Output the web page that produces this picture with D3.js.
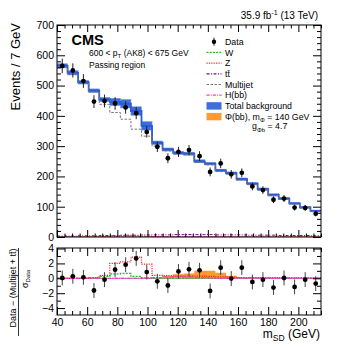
<!DOCTYPE html>
<html>
<head>
<meta charset="utf-8">
<script src="https://cdn.jsdelivr.net/npm/d3@7"></script>
<style>
body { margin: 0; background: #fff; }
svg text { font-family: "Liberation Sans", Arial, sans-serif; fill: #000; }
.axis path { display: none; }
.axis line { stroke: #000; stroke-width: 1; }
</style>
</head>
<body>
<svg id="chart" width="357" height="347"></svg>
<script>
// bins: 7 GeV wide, lower edges
const binLow = [40, 47, 54, 61, 68, 75, 82, 89, 96, 103, 110, 117, 124, 131, 138, 145, 152, 159, 166, 173, 180, 187, 194, 201, 208];
const BIN_W = 7;

// main panel (events / bin)
const dataCounts = [565, 550, 515, 447, 449, 441, 428, 409, 347, 298, 260, 281, 287, 267, 215, 243, 207, 212, 167, 155, 123, 127, 97, 96, 77];
const totalBkg   = [565, 542, 511, 483, 454, 446, 440, 416, 367, 311, 289, 278, 275, 250, 242, 220, 211, 191, 176, 158, 139, 127, 111, 98, 86];
const totalErr   = [7, 7, 6, 6, 7, 12, 14, 14, 14, 6, 5, 5, 5, 5, 4, 4, 4, 4, 4, 4, 4, 4, 3, 3, 3];
const multijet   = [562, 539, 508, 479, 438, 411, 389, 356, 333, 300, 284, 274, 272, 247, 238, 216, 208, 188, 173, 155, 137, 125, 109, 96, 84];
const ttbar      = [3, 3, 4, 4, 5, 5, 6, 6, 7, 7, 7, 8, 8, 8, 8, 7, 7, 7, 6, 6, 6, 5, 5, 5, 4];
const wMain      = [0, 0, 0, 1, 2, 4, 4, 2, 1, 0, 0, 0, 0, 0, 0, 0, 0, 0, 0, 0, 0, 0, 0, 0, 0];
const zMain      = [0, 0, 0, 0, 1, 2, 3, 4, 3, 1, 0, 0, 0, 0, 0, 0, 0, 0, 0, 0, 0, 0, 0, 0, 0];
const hMain      = [0, 0, 0, 0, 0, 0, 0, 0, 0, 1, 1, 2, 2, 2, 1, 1, 0, 0, 0, 0, 0, 0, 0, 0, 0];

// ratio panel: (data - (multijet + tt)) / sigma_data
const ratioData = [0.04, 0.27, 0.13, -1.64, -0.18, 1.16, 1.83, 2.67, 0.84, -0.4, -0.97, 0.93, 1.2, 1.07, -1.7, 1.43, -0.04, 1.43, -0.49, -0.18, -1.24, 0.04, -1.16, -0.18, -0.71];
const ratioW    = [0, 0, 0, 0.05, 0.25, 0.6, 0.65, 0.25, 0.05, 0.02, 0.02, 0.02, 0.02, 0.02, 0.02, 0.02, 0.02, 0.02, 0.02, 0.02, 0.02, 0.02, 0.02, 0.02, 0.02];
const ratioZ    = [0, 0, 0, 0.1, 0.4, 2.0, 2.2, 2.85, 1.9, 0.4, 0.35, 0.3, 0.3, 0.3, 0.25, 0.2, 0.15, 0.1, 0.1, 0.1, 0.08, 0.08, 0.05, 0.05, 0.05];
const ratioH    = [0, 0, 0, 0, 0, 0, 0, 0, 0, 0.1, 0.2, 0.25, 0.2, 0.1, 0.05, 0, 0, 0, 0, 0, 0, 0, 0, 0, 0];
const ratioPhi  = [0, 0, 0, 0, 0, 0, 0, 0, 0, 0, 0.3, 0.55, 0.65, 1.0, 1.0, 0.75, 0.35, 0.15, 0.08, 0.05, 0, 0, 0, 0, 0];

const xTicks = [40, 60, 80, 100, 120, 140, 160, 180, 200];
const yMainTicks = [0, 100, 200, 300, 400, 500, 600, 700];
const yRatioTicks = [-4, -2, 0, 2, 4];

const legendItems = [
	{ label: 'Data', kind: 'data' },
	{ label: 'W', kind: 'line', color: '#22bb22', dash: '2,1.2' },
	{ label: 'Z', kind: 'line', color: '#ff2020', dash: '1.2,1.2' },
	{ label: 'tt', kind: 'line', color: '#8b008b', dash: '3,1.5,1,1.5' },
	{ label: 'Multijet', kind: 'line', color: '#777777', dash: '2.5,1.5' },
	{ label: 'H(bb)', kind: 'line', color: '#ff33cc', dash: '3,1.2,1,1.2' },
	{ label: 'Total background', kind: 'box', color: '#3d6fdc' },
	{ label: 'Φ(bb), m', kind: 'box', color: '#ff9a2e' }
];

const svg = d3.select('#chart');

// scales
const x = d3.scaleLinear().domain([40, 215]).range([57, 321]);
const yMain = d3.scaleLinear().domain([0, 700]).range([237, 25]);
const yRatio = d3.scaleLinear().domain([-4.93, 4.07]).range([315, 248]);

const MAIN_TOP = 25, MAIN_BOT = 237, RAT_TOP = 248, RAT_BOT = 315, X0 = 57, X1 = 321;

function stepPoints(vals) {
	const pts = [];
	binLow.forEach((lo, i) => { pts.push([lo, vals[i]]); pts.push([lo + BIN_W, vals[i]]); });
	return pts;
}
function stepLine(vals, yS) {
	return d3.line().x(d => x(d[0])).y(d => yS(d[1]))(stepPoints(vals));
}

const defs = svg.append('defs');
defs.append('clipPath').attr('id', 'clipMain').append('rect')
	.attr('x', X0).attr('y', MAIN_TOP).attr('width', X1 - X0).attr('height', MAIN_BOT - MAIN_TOP);
defs.append('clipPath').attr('id', 'clipRat').append('rect')
	.attr('x', X0).attr('y', RAT_TOP).attr('width', X1 - X0).attr('height', RAT_BOT - RAT_TOP);

// ---- main panel ----
const mainG = svg.append('g').attr('clip-path', 'url(#clipMain)');

mainG.selectAll('rect.band').data(binLow).enter().append('rect')
	.classed('band', true)
	.attr('x', d => x(d))
	.attr('width', d => x(d + BIN_W) - x(d))
	.attr('y', (d, i) => yMain(totalBkg[i] + totalErr[i]))
	.attr('height', (d, i) => yMain(totalBkg[i] - totalErr[i]) - yMain(totalBkg[i] + totalErr[i]))
	.attr('fill', '#3d6fdc')
	.attr('stroke', '#6f95e6')
	.attr('stroke-width', 0.5);

mainG.append('path').attr('d', stepLine(totalBkg, yMain))
	.attr('fill', 'none').attr('stroke', '#2a5bd2').attr('stroke-width', 1.8);

const mainLines = [
	{ vals: multijet, color: '#777777', dash: '2.5,1.5' },
	{ vals: ttbar, color: '#8b008b', dash: '3,1.5,1,1.5' },
	{ vals: wMain, color: '#22bb22', dash: '2,1.2' },
	{ vals: zMain, color: '#ff2020', dash: '1.2,1.2' },
	{ vals: hMain, color: '#ff33cc', dash: '3,1.2,1,1.2' }
];
mainLines.forEach(l => {
	mainG.append('path').attr('d', stepLine(l.vals, yMain))
		.attr('fill', 'none').attr('stroke', l.color)
		.attr('stroke-width', 1).attr('stroke-dasharray', l.dash);
});

const binCenter = i => x(binLow[i] + BIN_W / 2);

mainG.selectAll('line.err').data(dataCounts).enter().append('line')
	.classed('err', true)
	.attr('x1', (d, i) => binCenter(i)).attr('x2', (d, i) => binCenter(i))
	.attr('y1', d => yMain(d - Math.sqrt(d))).attr('y2', d => yMain(d + Math.sqrt(d)))
	.attr('stroke', '#222').attr('stroke-width', 1);
mainG.selectAll('circle.pt').data(dataCounts).enter().append('circle')
	.classed('pt', true)
	.attr('cx', (d, i) => binCenter(i)).attr('cy', d => yMain(d))
	.attr('r', 2.4).attr('fill', '#000');

// ---- ratio panel ----
const ratG = svg.append('g').attr('clip-path', 'url(#clipRat)');

ratG.append('line')
	.attr('x1', X0).attr('x2', X1).attr('y1', yRatio(0)).attr('y2', yRatio(0))
	.attr('stroke', '#888').attr('stroke-width', 1);

ratG.append('path')
	.attr('d', d3.area().x(d => x(d[0])).y0(yRatio(0)).y1(d => yRatio(d[1]))(stepPoints(ratioPhi)))
	.attr('fill', '#ff9a2e');

[
	{ vals: ratioW, color: '#22bb22', dash: '2,1.2' },
	{ vals: ratioZ, color: '#ff2020', dash: '1.2,1.2' },
	{ vals: ratioH, color: '#ff33cc', dash: '3,1.2,1,1.2' }
].forEach(l => {
	ratG.append('path').attr('d', stepLine(l.vals, yRatio))
		.attr('fill', 'none').attr('stroke', l.color)
		.attr('stroke-width', 1.2).attr('stroke-dasharray', l.dash);
});

ratG.selectAll('line.err').data(ratioData).enter().append('line')
	.classed('err', true)
	.attr('x1', (d, i) => binCenter(i)).attr('x2', (d, i) => binCenter(i))
	.attr('y1', d => yRatio(d - 1)).attr('y2', d => yRatio(d + 1))
	.attr('stroke', '#444').attr('stroke-width', 1);
ratG.selectAll('circle.pt').data(ratioData).enter().append('circle')
	.classed('pt', true)
	.attr('cx', (d, i) => binCenter(i)).attr('cy', d => yRatio(d))
	.attr('r', 2.4).attr('fill', '#000');

// ---- axes ----
const minorX = d3.range(40, 216, 5).filter(v => v % 20 !== 0);
const minorYMain = d3.range(0, 701, 20).filter(v => v % 100 !== 0);
const minorYRat = [-3, -1, 1, 3];

function addAxis(axis, tx, ty, cls) {
	return svg.append('g').attr('class', 'axis ' + (cls || ''))
		.attr('transform', `translate(${tx},${ty})`).call(axis);
}

// main panel
addAxis(d3.axisLeft(yMain).tickValues(yMainTicks).tickSize(-8).tickPadding(3), X0, 0, 'ylab');
addAxis(d3.axisLeft(yMain).tickValues(minorYMain).tickSize(-4).tickFormat(''), X0, 0);
addAxis(d3.axisRight(yMain).tickValues(yMainTicks).tickSize(-8).tickFormat(''), X1, 0);
addAxis(d3.axisRight(yMain).tickValues(minorYMain).tickSize(-4).tickFormat(''), X1, 0);
addAxis(d3.axisBottom(x).tickValues(xTicks).tickSize(-7).tickFormat(''), 0, MAIN_BOT);
addAxis(d3.axisBottom(x).tickValues(minorX).tickSize(-3.5).tickFormat(''), 0, MAIN_BOT);
addAxis(d3.axisTop(x).tickValues(xTicks).tickSize(-7).tickFormat(''), 0, MAIN_TOP);
addAxis(d3.axisTop(x).tickValues(minorX).tickSize(-3.5).tickFormat(''), 0, MAIN_TOP);

// ratio panel
addAxis(d3.axisLeft(yRatio).tickValues(yRatioTicks).tickSize(-8).tickPadding(3)
	.tickFormat(d => d < 0 ? '\u2212' + Math.abs(d) : d), X0, 0, 'ylab');
addAxis(d3.axisLeft(yRatio).tickValues(minorYRat).tickSize(-4).tickFormat(''), X0, 0);
addAxis(d3.axisRight(yRatio).tickValues(yRatioTicks).tickSize(-8).tickFormat(''), X1, 0);
addAxis(d3.axisRight(yRatio).tickValues(minorYRat).tickSize(-4).tickFormat(''), X1, 0);
addAxis(d3.axisBottom(x).tickValues(xTicks).tickSize(-8).tickPadding(4), 0, RAT_BOT, 'xlab');
addAxis(d3.axisBottom(x).tickValues(minorX).tickSize(-4).tickFormat(''), 0, RAT_BOT);
addAxis(d3.axisTop(x).tickValues(xTicks).tickSize(-8).tickFormat(''), 0, RAT_TOP);
addAxis(d3.axisTop(x).tickValues(minorX).tickSize(-4).tickFormat(''), 0, RAT_TOP);

svg.selectAll('.ylab text').attr('font-size', 10.5).attr('font-family', '"Liberation Sans", Arial, sans-serif');
svg.selectAll('.xlab text').attr('font-size', 10.5).attr('font-family', '"Liberation Sans", Arial, sans-serif');

// frames
[[MAIN_TOP, MAIN_BOT], [RAT_TOP, RAT_BOT]].forEach(([t, b]) => {
	svg.append('rect').attr('x', X0).attr('y', t).attr('width', X1 - X0).attr('height', b - t)
		.attr('fill', 'none').attr('stroke', '#000').attr('stroke-width', 1);
});

// ---- texts ----
const lumi = svg.append('text').attr('x', 318).attr('y', 19).attr('text-anchor', 'end').attr('font-size', 10);
lumi.append('tspan').text('35.9 fb');
lumi.append('tspan').attr('dy', -4).attr('font-size', 7).text('-1');
lumi.append('tspan').attr('dy', 4).text(' (13 TeV)');

svg.append('text').attr('x', 71.5).attr('y', 45).attr('font-size', 14.5).attr('font-weight', 'bold').text('CMS');

const ptText = svg.append('text').attr('x', 89).attr('y', 56).attr('font-size', 8.5);
ptText.append('tspan').text('600 < p');
ptText.append('tspan').attr('dy', 2).attr('font-size', 6).text('T');
ptText.append('tspan').attr('dy', -2).text(' (AK8) < 675 GeV');
svg.append('text').attr('x', 89).attr('y', 68).attr('font-size', 8.5).text('Passing region');

// y title
svg.append('text').attr('transform', 'translate(19.5,23) rotate(-90)')
	.attr('text-anchor', 'end').attr('font-size', 13).text('Events / 7 GeV');

// ratio y title
svg.append('text').attr('transform', 'translate(16,288) rotate(-90)')
	.attr('text-anchor', 'middle').attr('font-size', 9).text('Data \u2212 (Multijet + tt\u0304)');
svg.append('line').attr('x1', 18.5).attr('x2', 18.5).attr('y1', 248).attr('y2', 336)
	.attr('stroke', '#000').attr('stroke-width', 0.8);
const sig = svg.append('text').attr('transform', 'translate(28,288) rotate(-90)').attr('font-size', 9);
sig.append('tspan').text('\u03c3');
sig.append('tspan').attr('dy', 2).attr('font-size', 6).text('Data');

// x title
const xt = svg.append('text').attr('x', 320).attr('y', 338).attr('text-anchor', 'end').attr('font-size', 12);
xt.append('tspan').text('m');
xt.append('tspan').attr('dy', 3).attr('font-size', 8.5).text('SD');
xt.append('tspan').attr('dy', -3).text(' (GeV)');

// ---- legend ----
const LEG_X0 = 206.5, LEG_X1 = 221.5, LEG_TEXT = 225, LEG_Y0 = 41.7, LEG_DY = 10.7;
const leg = svg.append('g');
legendItems.forEach((it, i) => {
	const cy = LEG_Y0 + i * LEG_DY;
	const row = leg.append('g');
	if (it.kind === 'data') {
		const mx = (LEG_X0 + LEG_X1) / 2;
		row.append('line').attr('x1', mx).attr('x2', mx).attr('y1', cy - 4).attr('y2', cy + 4)
			.attr('stroke', '#222').attr('stroke-width', 1);
		row.append('circle').attr('cx', mx).attr('cy', cy).attr('r', 2.2).attr('fill', '#000');
	} else if (it.kind === 'line') {
		row.append('line').attr('x1', LEG_X0).attr('x2', LEG_X1).attr('y1', cy).attr('y2', cy)
			.attr('stroke', it.color).attr('stroke-width', 1.2).attr('stroke-dasharray', it.dash);
	} else {
		row.append('rect').attr('x', LEG_X0).attr('y', cy - 3.7).attr('width', LEG_X1 - LEG_X0).attr('height', 7.4)
			.attr('fill', it.color);
	}
	const t = row.append('text').attr('x', LEG_TEXT).attr('y', cy + 3.1).attr('font-size', 8.8);
	if (it.label === 'tt') {
		t.text('tt\u0304');
	} else if (it.label === 'Φ(bb), m') {
		t.append('tspan').text('\u03a6(bb), m');
		t.append('tspan').attr('dy', 2.5).attr('font-size', 6).text('\u03a6');
		t.append('tspan').attr('dy', -2.5).text(' = 140 GeV');
	} else {
		t.text(it.label);
	}
});
const gt = leg.append('text').attr('x', 252).attr('y', LEG_Y0 + 8 * LEG_DY + 2).attr('font-size', 8.8);
gt.append('tspan').text('g');
gt.append('tspan').attr('dy', 2.5).attr('font-size', 6).text('\u03a6b');
gt.append('tspan').attr('dy', -2.5).text(' = 4.7');
</script>
</body>
</html>
